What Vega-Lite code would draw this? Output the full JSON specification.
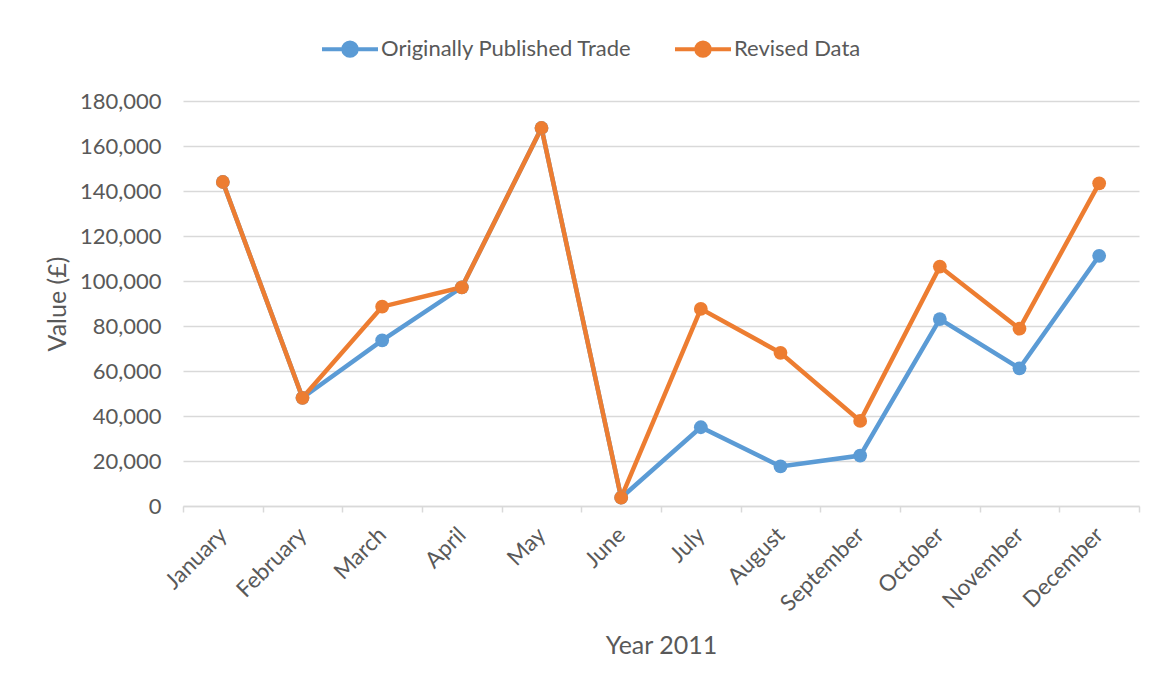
{
  "$schema": "https://vega.github.io/schema/vega-lite/v6.json",
  "width": 956,
  "height": 405,
  "autosize": {"type": "none"},
  "padding": {"left": 183, "top": 101, "right": 18, "bottom": 180},
  "background": "white",
  "config": {
    "view": {"stroke": null},
    "font": "Lato",
    "axis": {"labelFont": "Lato", "titleFont": "Lato", "labelColor": "#595959", "titleColor": "#595959", "titleFontWeight": "normal"},
    "legend": {"labelFont": "Lato", "labelColor": "#595959"}
  },
  "data": {
    "values": [
      {"month": "January", "series": "Originally Published Trade", "value": 144000},
      {"month": "February", "series": "Originally Published Trade", "value": 48100},
      {"month": "March", "series": "Originally Published Trade", "value": 73600},
      {"month": "April", "series": "Originally Published Trade", "value": 97200},
      {"month": "May", "series": "Originally Published Trade", "value": 168000},
      {"month": "June", "series": "Originally Published Trade", "value": 3700},
      {"month": "July", "series": "Originally Published Trade", "value": 35000},
      {"month": "August", "series": "Originally Published Trade", "value": 17600},
      {"month": "September", "series": "Originally Published Trade", "value": 22400},
      {"month": "October", "series": "Originally Published Trade", "value": 83100},
      {"month": "November", "series": "Originally Published Trade", "value": 61200},
      {"month": "December", "series": "Originally Published Trade", "value": 111200},
      {"month": "January", "series": "Revised Data", "value": 144000},
      {"month": "February", "series": "Revised Data", "value": 48100},
      {"month": "March", "series": "Revised Data", "value": 88600},
      {"month": "April", "series": "Revised Data", "value": 97200},
      {"month": "May", "series": "Revised Data", "value": 168000},
      {"month": "June", "series": "Revised Data", "value": 3700},
      {"month": "July", "series": "Revised Data", "value": 87600},
      {"month": "August", "series": "Revised Data", "value": 68100},
      {"month": "September", "series": "Revised Data", "value": 37800},
      {"month": "October", "series": "Revised Data", "value": 106400},
      {"month": "November", "series": "Revised Data", "value": 78800},
      {"month": "December", "series": "Revised Data", "value": 143400}
    ]
  },
  "encoding": {
    "x": {
      "field": "month",
      "type": "ordinal",
      "sort": null,
      "scale": {"type": "band", "paddingInner": 0, "paddingOuter": 0},
      "title": "Year 2011",
      "axis": {
        "tickBand": "extent",
        "labelAngle": -45,
        "labelAlign": "right",
        "labelBaseline": "middle",
        "labelFontSize": 22.5,
        "labelPadding": 19,
        "labelLimit": 0,
        "domainColor": "#d9d9d9",
        "domainWidth": 1.5,
        "tickColor": "#d9d9d9",
        "tickWidth": 1.5,
        "tickSize": 6,
        "grid": false,
        "titleFontSize": 25,
        "titlePadding": 18
      }
    },
    "y": {
      "field": "value",
      "type": "quantitative",
      "scale": {"domain": [0, 180000], "nice": false},
      "title": "Value (£)",
      "axis": {
        "values": [0, 20000, 40000, 60000, 80000, 100000, 120000, 140000, 160000, 180000],
        "format": ",d",
        "domain": false,
        "ticks": false,
        "labelPadding": 22,
        "labelFontSize": 22,
        "gridColor": "#d9d9d9",
        "gridWidth": 1.5,
        "titleFontSize": 25,
        "titlePadding": 9
      }
    },
    "color": {
      "field": "series",
      "type": "nominal",
      "scale": {"domain": ["Originally Published Trade", "Revised Data"], "range": ["#5B9BD5", "#ED7D31"]},
      "legend": {
        "title": null,
        "orient": "none",
        "direction": "horizontal",
        "legendX": 137,
        "legendY": -82,
        "labelFontSize": 22,
        "labelLimit": 0,
        "columnPadding": 35,
        "symbolType": "M-1,0L1,0M-0.24,0A0.24,0.24 0 1,0 0.24,0A0.24,0.24 0 1,0 -0.24,0Z",
        "symbolSize": 3136,
        "symbolStrokeWidth": 4,
        "labelOffset": 1
      }
    }
  },
  "layer": [
    {"mark": {"type": "line", "strokeWidth": 4.5}},
    {"mark": {"type": "point", "filled": true, "size": 190, "opacity": 1}}
  ]
}
